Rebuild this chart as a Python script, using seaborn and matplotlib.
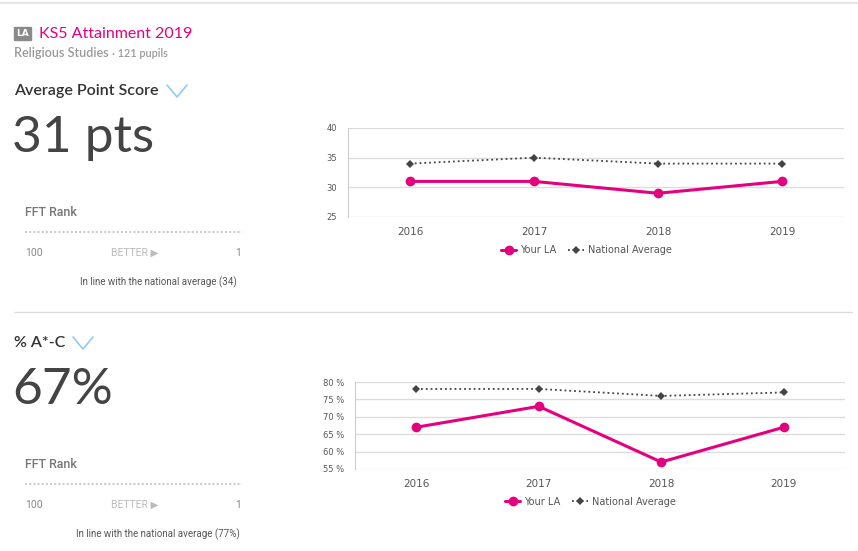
import matplotlib.pyplot as plt
from matplotlib.lines import Line2D
from matplotlib.patches import Rectangle
import pandas as pd
import seaborn as sns

years = ['2016', '2017', '2018', '2019']
aps_la = [31, 31, 29, 31]
aps_nat = [34, 35, 34, 34]
ac_la = [67, 73, 57, 67]
ac_nat = [78, 78, 76, 77]

PINK = '#e5007e'
DARK = '#444444'
W, H = 858, 551
FAM = ['Roboto', 'DejaVu Sans']


def px(x, y):
    return x / W, 1 - y / H


def draw_chart(ax, la, nat, ylim, yticks, fmt):
    df = pd.DataFrame({'year': years, 'la': la, 'nat': nat})
    sns.lineplot(data=df, x='year', y='nat', ax=ax, color=DARK, linestyle=':', lw=1.3,
                 marker='D', markersize=4.5, markeredgewidth=0, label='National Average')
    sns.lineplot(data=df, x='year', y='la', ax=ax, color=PINK, lw=2.2,
                 marker='o', markersize=7, markeredgewidth=0, label='Your LA')
    ax.set_xlim(-0.5, 3.5)
    ax.set_ylim(*ylim)
    ax.set_yticks(yticks)
    ax.set_yticklabels([fmt.format(v) for v in yticks])
    ax.set_xlabel('')
    ax.set_ylabel('')
    ax.set_xticks([-0.5, 0.5, 1.5, 2.5, 3.5], minor=True)
    ax.tick_params(axis='x', which='major', length=0, labelsize=7.5, labelcolor='#555', pad=7)
    ax.tick_params(axis='x', which='minor', length=5, color='#cccccc')
    ax.tick_params(axis='y', length=0, labelsize=6, labelcolor='#555', pad=8)
    ax.grid(axis='y', color='#dddddd', lw=1)
    for s in ['top', 'right', 'bottom']:
        ax.spines[s].set_visible(False)
    ax.spines['left'].set_color('#cccccc')
    h, l = ax.get_legend_handles_labels()
    ax.legend(h[::-1], l[::-1], ncol=2, loc='upper center', bbox_to_anchor=(0.48, -0.22),
              frameon=False, fontsize=7, labelcolor='#555', handlelength=1.6,
              columnspacing=1.2, handletextpad=0.4)


def draw_panel(fig, y0, title, chev_x, big, note):
    fig.text(*px(14, y0), title, fontsize=11.5, color='#333333', family='Lato',
             weight='semibold', va='center')
    chev = Line2D([px(chev_x, 0)[0], px(chev_x + 10, 0)[0], px(chev_x + 20, 0)[0]],
                  [px(0, y0 - 6)[1], px(0, y0 + 6)[1], px(0, y0 - 6)[1]],
                  color='#8fcdf0', lw=1.2, transform=fig.transFigure)
    fig.add_artist(chev)
    fig.text(*px(12, y0 + 47), big, fontsize=37, color='#444444', family='Lato', va='center')
    fig.text(*px(25, y0 + 122), 'FFT Rank', fontsize=9, color='#777777', family=FAM,
             va='center', weight='medium')
    dots = Line2D([px(25, 0)[0], px(242, 0)[0]], [px(0, y0 + 141)[1]] * 2,
                  color='#cccccc', lw=1.5, ls=(0, (1, 1)), transform=fig.transFigure)
    fig.add_artist(dots)
    fig.text(*px(25, y0 + 162), '100', fontsize=7.5, color='#888888', family=FAM, va='center')
    fig.text(*px(135, y0 + 162), 'BETTER ▶', fontsize=7.5, color='#bbbbbb', family=FAM,
             va='center', ha='center')
    fig.text(*px(241, y0 + 162), '1', fontsize=7.5, color='#888888', family=FAM,
             va='center', ha='right')
    fig.text(*px(158, y0 + 191), note, fontsize=7, color='#555555', family=FAM,
             va='center', ha='center')


sns.set_style('white')
fig = plt.figure(figsize=(W / 100, H / 100), dpi=100)

# header
fig.add_artist(Line2D([0, 1], [px(0, 3)[1]] * 2, color='#e6e6e6', lw=1.5, transform=fig.transFigure))
fig.add_artist(Rectangle(px(14, 40), 17 / W, 13 / H, color='#8a8a8a', transform=fig.transFigure))
fig.text(*px(22.5, 33.5), 'LA', fontsize=6.5, color='white', weight='bold', ha='center', va='center')
fig.text(*px(39, 34), 'KS5 Attainment 2019', fontsize=11.5, color=PINK, family='Lato', va='center')
fig.text(*px(14, 53), 'Religious Studies', fontsize=9, color='#999999', family='Lato',
         weight='semibold', va='center')
fig.text(*px(112, 53.5), '· 121 pupils', fontsize=7.8, color='#999999', family='Lato',
         weight='semibold', va='center')

draw_panel(fig, 91, 'Average Point Score', 167, '31 pts', 'In line with the national average (34)')
fig.add_artist(Line2D([px(14, 0)[0], px(852, 0)[0]], [px(0, 312)[1]] * 2, color='#dddddd',
                      lw=1, transform=fig.transFigure))
draw_panel(fig, 343, '% A*-C', 73, '67%', 'In line with the national average (77%)')

ax1 = fig.add_axes([348 / W, 1 - 217 / H, 496 / W, 89 / H])
draw_chart(ax1, aps_la, aps_nat, (25, 40), [25, 30, 35, 40], '{}')
ax2 = fig.add_axes([355 / W, 1 - 469 / H, 490 / W, 87 / H])
draw_chart(ax2, ac_la, ac_nat, (55, 80), [55, 60, 65, 70, 75, 80], '{} %')

fig.savefig('out.png', dpi=100)
